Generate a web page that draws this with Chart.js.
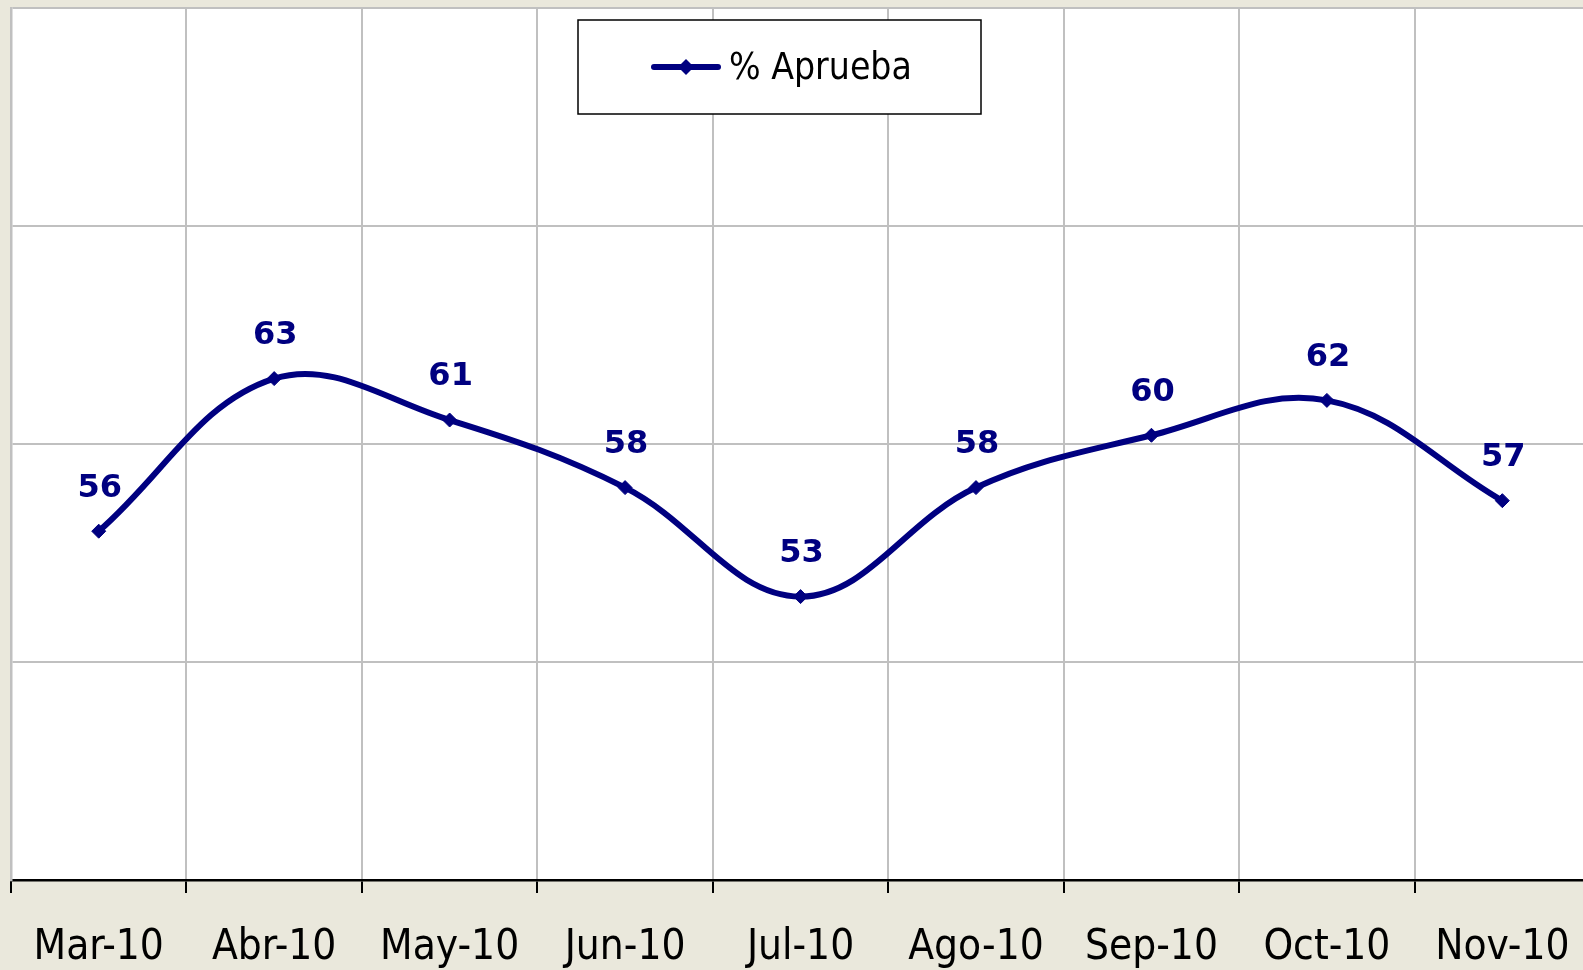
<!DOCTYPE html>
<html>
<head>
<meta charset="utf-8">
<script src="https://cdn.jsdelivr.net/npm/chart.js@4.4.1/dist/chart.umd.min.js"></script>
<style>
  html, body { margin: 0; padding: 0; overflow: hidden; background: #eae8dc; }
  canvas { display: block; }
</style>
</head>
<body>
<canvas id="chart-aprueba" width="1600" height="970"></canvas>
<script>
  'use strict';

  // datos
  const meses = ['Mar-10', 'Abr-10', 'May-10', 'Jun-10', 'Jul-10', 'Ago-10', 'Sep-10', 'Oct-10', 'Nov-10'];
  const aprueba = [56, 63, 61.1, 58, 53, 58, 60.4, 62, 57.4];
  const ejeY = [40, 50, 60, 70, 80];
  const serie = '% Aprueba';

  const azul = '#000080';
  const gris = '#c0c0c0';
  const beige = '#eae8dc';
  const fuente = "'DejaVu Sans Condensed', 'DejaVu Sans', sans-serif";

  const fondo = {
    id: 'fondo',
    beforeDraw(chart) {
      const { ctx, chartArea: a } = chart;
      ctx.save();
      ctx.fillStyle = beige;
      ctx.fillRect(0, 0, chart.width, chart.height);
      ctx.fillStyle = '#fff';
      ctx.fillRect(a.left, a.top, a.right - a.left, a.bottom - a.top);
      ctx.restore();
    },
  };

  // etiquetas de valor sobre cada punto
  const etiquetas = {
    id: 'etiquetas',
    afterDatasetsDraw(chart) {
      const ctx = chart.ctx;
      const meta = chart.getDatasetMeta(0);
      ctx.save();
      ctx.fillStyle = azul;
      ctx.font = "bold 32px 'DejaVu Sans', sans-serif";
      ctx.textAlign = 'center';
      ctx.textBaseline = 'middle';
      meta.data.forEach((p, i) => {
        ctx.fillText(String(Math.round(aprueba[i])), p.x + 1, p.y - 43);
      });
      ctx.restore();
    },
  };

  // leyenda con recuadro, como en el original
  const leyenda = {
    id: 'leyenda',
    afterDraw(chart) {
      const ctx = chart.ctx;
      const ds = chart.data.datasets[0];
      const x = 578, y = 20, w = 403, h = 94;
      ctx.save();
      ctx.fillStyle = '#fff';
      ctx.fillRect(x, y, w, h);
      ctx.strokeStyle = '#000';
      ctx.lineWidth = 1.5;
      ctx.strokeRect(x, y, w, h);
      const cy = y + h / 2;
      ctx.strokeStyle = ds.borderColor;
      ctx.lineWidth = 6;
      ctx.lineCap = 'round';
      ctx.beginPath();
      ctx.moveTo(654, cy);
      ctx.lineTo(718, cy);
      ctx.stroke();
      ctx.fillStyle = ds.borderColor;
      ctx.beginPath();
      ctx.moveTo(686, cy - 8);
      ctx.lineTo(694, cy);
      ctx.lineTo(686, cy + 8);
      ctx.lineTo(678, cy);
      ctx.closePath();
      ctx.fill();
      ctx.fillStyle = '#000';
      ctx.font = '37px ' + fuente;
      ctx.textAlign = 'left';
      ctx.textBaseline = 'middle';
      ctx.fillText(ds.label, 729, cy + 2);
      ctx.restore();
    },
  };

  const ctx = document.getElementById('chart-aprueba').getContext('2d');
  const myChart = new Chart(ctx, {
    type: 'line',
    data: {
      labels: meses,
      datasets: [
        {
          label: serie,
          data: aprueba,
          borderColor: azul,
          backgroundColor: azul,
          borderWidth: 6,
          tension: 0.38,
          pointStyle: 'rectRot',
          pointRadius: 7,
          pointBackgroundColor: azul,
          pointBorderColor: azul,
          pointBorderWidth: 1,
        },
      ],
    },
    plugins: [fondo, etiquetas, leyenda],
    options: {
      responsive: false,
      animation: false,
      events: [],
      layout: {
        padding: { left: 11, top: 7, right: 9, bottom: 0 },
      },
      plugins: {
        legend: { display: false },
        tooltip: { enabled: false },
      },
      scales: {
        x: {
          offset: true,
          grid: {
            offset: true,
            color: gris,
            lineWidth: 2,
            tickLength: 13,
            tickColor: '#000',
            tickWidth: 2,
          },
          border: { color: '#000', width: 2.5 },
          ticks: {
            color: '#000',
            padding: 30,
            maxRotation: 0,
            autoSkip: false,
            font: { family: fuente, size: 42 },
          },
          afterFit(scale) {
            scale.height = 90;
          },
        },
        y: {
          min: ejeY[0],
          max: ejeY[ejeY.length - 1],
          ticks: { display: false, stepSize: ejeY[1] - ejeY[0] },
          grid: { color: gris, lineWidth: 2, drawTicks: false },
          border: { color: gris, width: 2.5 },
          afterFit(scale) {
            scale.width = 0;
          },
        },
      },
    },
  });
</script>
</body>
</html>
